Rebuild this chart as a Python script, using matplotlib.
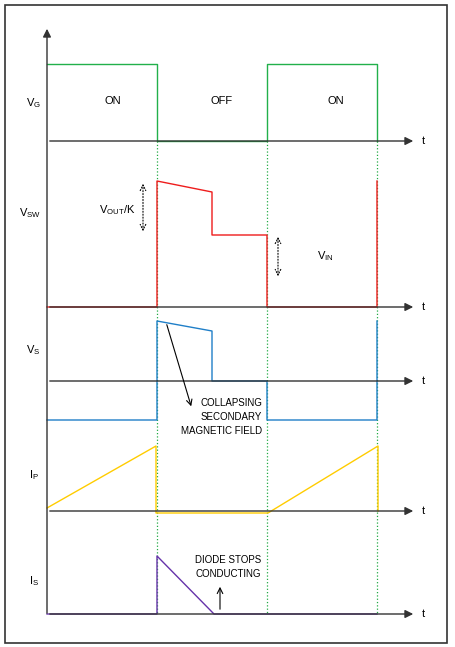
import matplotlib.pyplot as plt
from matplotlib.patches import Rectangle

# switching instants (px) and panel baselines (px)
t_edges = [47, 157, 212, 267, 377]
baselines = {'VG': 141, 'VSW': 307, 'VS': 381, 'IP': 511, 'IS': 614}

# waveforms: (x, y) points
vg_x = [47, 157, 157, 267, 267, 377, 377]
vg_y = [64, 64, 141, 141, 64, 64, 141]
vsw_x = [47, 157, 157, 212, 212, 267, 267, 377, 377]
vsw_y = [307, 307, 181, 192, 235, 235, 307, 307, 181]
vs_x = [47, 157, 157, 212, 212, 267, 267, 377, 377]
vs_y = [420, 420, 321, 331, 381, 381, 420, 420, 321]
ip_x = [47, 156, 156, 268, 378, 378]
ip_y = [508, 446, 513, 513, 446, 511]
is_x = [47, 157, 157, 214, 377]
is_y = [614, 614, 556, 614, 614]

fig = plt.figure(figsize=(4.55, 6.47), dpi=100)
ax = fig.add_axes([0, 0, 1, 1])
ax.set_xlim(0, 455)
ax.set_ylim(647, 0)
ax.axis('off')
plt.rcParams['font.family'] = ['Liberation Sans', 'DejaVu Sans']

ax.add_patch(Rectangle((5, 5), 442, 638, fill=False, ec='#333333', lw=1.2))

# axes
ax.annotate('', xy=(47, 26), xytext=(47, 616),
            arrowprops=dict(arrowstyle='-|>', color='#333333', lw=1, mutation_scale=12))
for name, y in baselines.items():
    ax.annotate('', xy=(416, y), xytext=(47, y),
                arrowprops=dict(arrowstyle='-|>', color='#333333', lw=1, mutation_scale=12))
    ax.text(423, y, 't', fontsize=8, ha='center', va='center')

for x in [157, 267, 377]:
    ax.plot([x, x], [141, 614], color='#22aa44', ls=':', lw=0.9)

ax.plot(vg_x, vg_y, color='#22b04b', lw=1)
ax.plot(vsw_x, vsw_y, color='#ee1c1c', lw=1)
ax.plot(vs_x, vs_y, color='#1f7fc8', lw=1)
ax.plot(ip_x, ip_y, color='#ffcc00', lw=1)
ax.plot(is_x, is_y, color='#6633aa', lw=1)

def label(x, y, main, sub):
    ax.text(x, y, r'$\mathregular{' + main + r'_{' + sub + r'}}$', fontsize=8,
            ha='center', va='center')

label(33, 103, 'V', 'G')
label(30, 213, 'V', 'SW')
label(33, 350, 'V', 'S')
label(34, 475, 'I', 'P')
label(34, 581, 'I', 'S')
label(325, 256, 'V', 'IN')
ax.text(117, 210, r'$\mathregular{V_{OUT}}$/K', fontsize=8, ha='center', va='center')

for x, s in [(113, 'ON'), (222, 'OFF'), (336, 'ON')]:
    ax.text(x, 101, s, fontsize=8, ha='center', va='center')

ax.annotate('', xy=(143, 181), xytext=(143, 234),
            arrowprops=dict(arrowstyle='<->', ls=':', lw=0.8, color='black'))
ax.annotate('', xy=(278, 234), xytext=(278, 279),
            arrowprops=dict(arrowstyle='<->', ls=':', lw=0.8, color='black'))

ax.annotate('', xy=(192, 409), xytext=(166, 322),
            arrowprops=dict(arrowstyle='->', lw=0.8, color='black'))
ax.text(262, 417, 'COLLAPSING\nSECONDARY\nMAGNETIC FIELD', fontsize=7,
        ha='right', va='center', linespacing=1.5)
ax.annotate('', xy=(220, 584), xytext=(220, 612),
            arrowprops=dict(arrowstyle='->', lw=0.8, color='black'))
ax.text(261, 567, 'DIODE STOPS\nCONDUCTING', fontsize=7,
        ha='right', va='center', linespacing=1.5)

fig.savefig('out.png', dpi=100)
